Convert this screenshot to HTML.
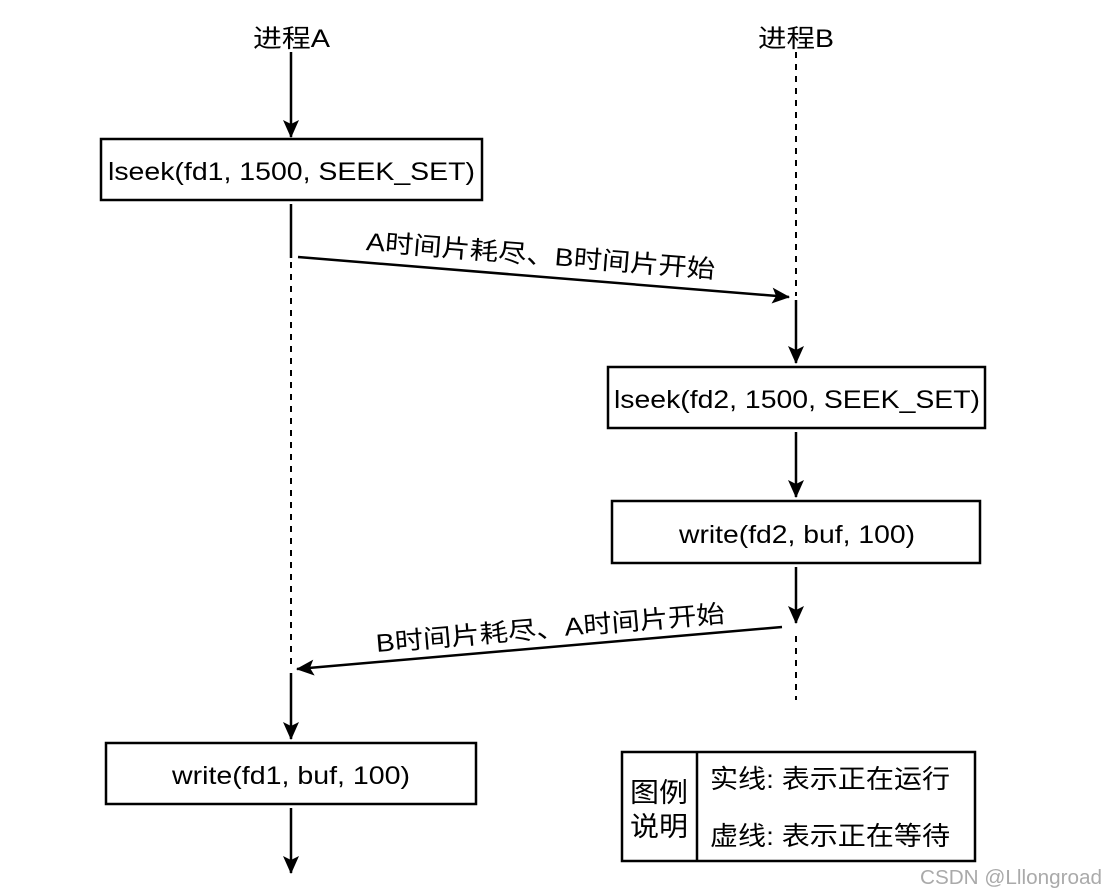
<!DOCTYPE html>
<html><head><meta charset="utf-8"><style>
html,body{margin:0;padding:0;background:#fff;}
svg{display:block;}
text{font-family:"Liberation Sans","Noto Sans CJK SC",sans-serif;fill:#000;}
</style></head><body>
<svg width="1106" height="895" viewBox="0 0 1106 895" xmlns="http://www.w3.org/2000/svg">
<defs>
<marker id="ah" markerWidth="18" markerHeight="16" refX="17" refY="8" orient="auto" markerUnits="userSpaceOnUse">
<path d="M0,0 L18,8 L0,16 L4,8 Z" fill="#000"/>
</marker>
</defs>
<text x="253" y="47" font-size="25" textLength="77" lengthAdjust="spacingAndGlyphs">进程A</text>
<text x="758" y="47" font-size="25" textLength="76" lengthAdjust="spacingAndGlyphs">进程B</text>

<!-- A lifeline -->
<line x1="291" y1="52" x2="291" y2="137" stroke="#000" stroke-width="2.5" marker-end="url(#ah)"/>
<rect x="101" y="139" width="381" height="61" fill="#fff" stroke="#000" stroke-width="2.5"/>
<text x="108" y="180" font-size="25" textLength="367" lengthAdjust="spacingAndGlyphs">lseek(fd1, 1500, SEEK_SET)</text>
<line x1="291" y1="204" x2="291" y2="258" stroke="#000" stroke-width="2.5"/>
<line x1="291" y1="262" x2="291" y2="670" stroke="#000" stroke-width="2" stroke-dasharray="6,6"/>
<line x1="291" y1="673" x2="291" y2="739" stroke="#000" stroke-width="2.5" marker-end="url(#ah)"/>
<rect x="106" y="743" width="370" height="61" fill="#fff" stroke="#000" stroke-width="2.5"/>
<text x="172" y="784" font-size="25" textLength="238" lengthAdjust="spacingAndGlyphs">write(fd1, buf, 100)</text>
<line x1="291" y1="808" x2="291" y2="873" stroke="#000" stroke-width="2.5" marker-end="url(#ah)"/>

<!-- B lifeline -->
<line x1="796" y1="52" x2="796" y2="296" stroke="#000" stroke-width="2" stroke-dasharray="6,6"/>
<line x1="796" y1="300" x2="796" y2="363" stroke="#000" stroke-width="2.5" marker-end="url(#ah)"/>
<rect x="608" y="367" width="377" height="61" fill="#fff" stroke="#000" stroke-width="2.5"/>
<text x="614" y="408" font-size="25" textLength="366" lengthAdjust="spacingAndGlyphs">lseek(fd2, 1500, SEEK_SET)</text>
<line x1="796" y1="432" x2="796" y2="497" stroke="#000" stroke-width="2.5" marker-end="url(#ah)"/>
<rect x="612" y="501" width="368" height="62" fill="#fff" stroke="#000" stroke-width="2.5"/>
<text x="679" y="543" font-size="25" textLength="236" lengthAdjust="spacingAndGlyphs">write(fd2, buf, 100)</text>
<line x1="796" y1="567" x2="796" y2="623" stroke="#000" stroke-width="2.5" marker-end="url(#ah)"/>
<line x1="796" y1="636" x2="796" y2="700" stroke="#000" stroke-width="2" stroke-dasharray="6,6"/>

<!-- messages -->
<line x1="298" y1="257" x2="789" y2="297" stroke="#000" stroke-width="2.5" marker-end="url(#ah)"/>
<text x="540" y="264" font-size="25" text-anchor="middle" textLength="350" lengthAdjust="spacingAndGlyphs" transform="rotate(4.6 540 264)">A时间片耗尽、B时间片开始</text>
<line x1="782" y1="627" x2="297" y2="669" stroke="#000" stroke-width="2.5" marker-end="url(#ah)"/>
<text x="551" y="637" font-size="25" text-anchor="middle" textLength="350" lengthAdjust="spacingAndGlyphs" transform="rotate(-4.9 551 637)">B时间片耗尽、A时间片开始</text>

<!-- legend -->
<rect x="622" y="752" width="353" height="109" fill="#fff" stroke="#000" stroke-width="2.5"/>
<line x1="697" y1="752" x2="697" y2="861" stroke="#000" stroke-width="2.5"/>
<text x="630" y="802" font-size="27" textLength="58" lengthAdjust="spacingAndGlyphs">图例</text>
<text x="630" y="836" font-size="27" textLength="58" lengthAdjust="spacingAndGlyphs">说明</text>
<text x="710" y="788" font-size="26" textLength="240" lengthAdjust="spacingAndGlyphs">实线: 表示正在运行</text>
<text x="710" y="845" font-size="26" textLength="240" lengthAdjust="spacingAndGlyphs">虚线: 表示正在等待</text>

<text x="920" y="884" font-size="20" textLength="182" lengthAdjust="spacingAndGlyphs" style="fill:#aaa">CSDN @Lllongroad</text>
</svg>
</body></html>
